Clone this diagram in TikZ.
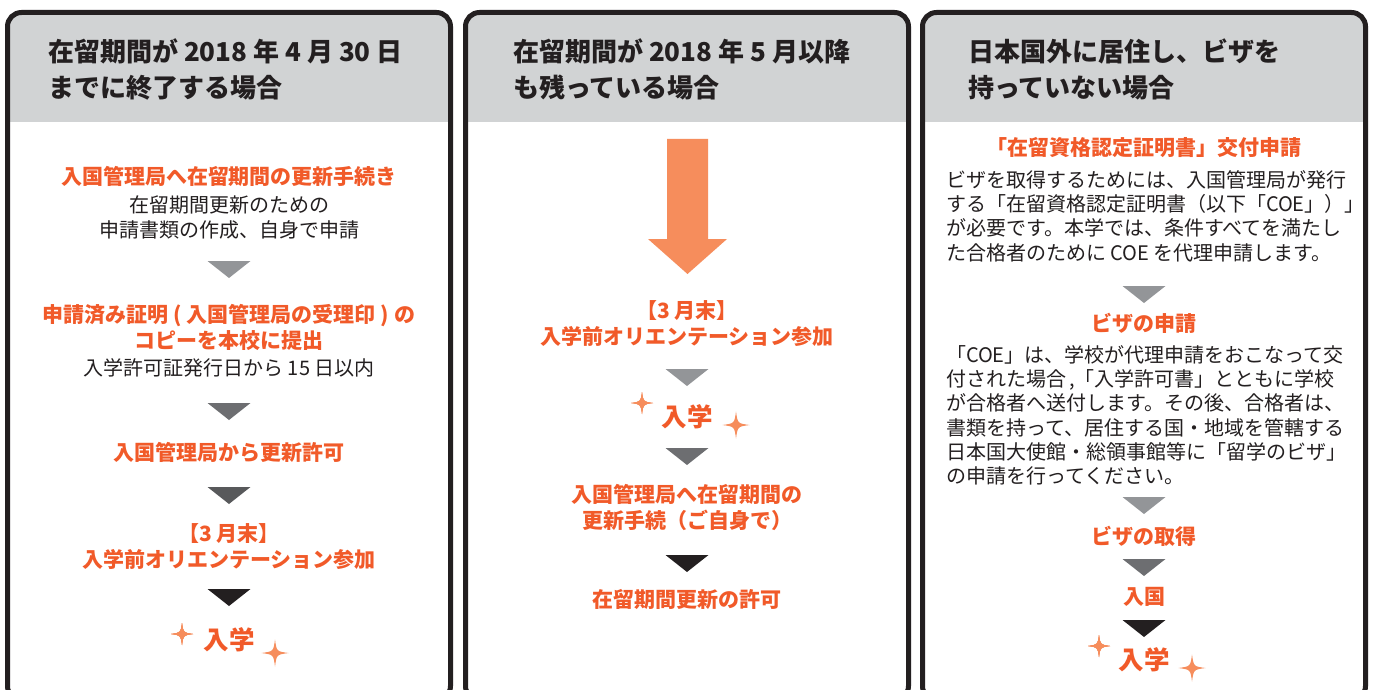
\documentclass[tikz,border=0pt]{standalone}
\usepackage{fontspec}
\usepackage{xcolor}
\setmainfont{Noto Sans CJK JP}
\usetikzlibrary{positioning}

\definecolor{hdgray}{HTML}{D1D3D4}
\definecolor{txtdark}{HTML}{231F20}
\definecolor{stepor}{HTML}{F15A29}
\definecolor{arrowor}{HTML}{F68D5C}
\definecolor{triA}{HTML}{939598}
\definecolor{triB}{HTML}{6D6E71}
\definecolor{triC}{HTML}{58595B}
\definecolor{triD}{HTML}{231F20}

% glue between CJK characters, so a line can be spread to full width
\XeTeXinterchartokenstate=1
\XeTeXinterchartoks 1 1 = {\hskip 0pt plus 3pt minus 1.5pt\relax}
\XeTeXinterchartoks 1 2 = {\hskip 0pt plus 3pt minus 1.5pt\relax}
\XeTeXinterchartoks 1 3 = {\hskip 0pt plus 3pt minus 1.5pt\relax}
\XeTeXinterchartoks 2 1 = {\hskip 0pt plus 3pt minus 1.5pt\relax}
\XeTeXinterchartoks 3 1 = {\hskip 0pt plus 3pt minus 1.5pt\relax}
\XeTeXinterchartoks 3 2 = {\hskip 0pt plus 3pt minus 1.5pt\relax}

\newcommand{\hdfont}{\fontsize{26}{36}\selectfont\bfseries}
\newcommand{\stepfont}{\fontsize{21}{26}\selectfont\bfseries}
\newcommand{\notefont}{\fontsize{20}{25}\selectfont}
\newcommand{\parafont}{\fontsize{20}{24.3}\selectfont}
\newcommand{\entfont}{\fontsize{25.5}{30}\selectfont\bfseries}
\newcommand{\jline}[1]{\makebox[402pt][s]{#1}}
\newcommand{\downtri}[3]{\fill[#3] (#1-21.5,#2) -- (#1+21.5,#2) -- (#1,#2+17) -- cycle;}

\tikzset{
  hdtext/.style={anchor=west, align=left, inner sep=0pt, text=txtdark, font=\hdfont},
  steptext/.style={align=center, inner sep=0pt, text=stepor, font=\stepfont},
  notetext/.style={align=center, inner sep=0pt, text=txtdark, font=\notefont},
  paratext/.style={align=left, inner sep=0pt, text=txtdark, font=\parafont},
  enttext/.style={inner sep=0pt, text=stepor, font=\entfont},
  sparkle/.pic={
    \fill[arrowor] (0,-1) .. controls (0.12,-0.12) .. (1,0) .. controls (0.12,0.12) .. (0,1)
      .. controls (-0.12,0.12) .. (-1,0) .. controls (-0.12,-0.12) .. (0,-1) -- cycle;}
}

\begin{document}
\begin{tikzpicture}[x=1pt, y=-1pt]
  \useasboundingbox (0,0) rectangle (1374,690);
  \fill[white] (0,0) rectangle (1374,690);
  \clip (0,0) rectangle (1374,690);

  % parameters
  \def\pw{443}    % panel width
  \def\pt{12.5}   % panel top
  \def\pb{700}    % panel bottom, below the page
  \def\hb{122}    % bottom of the grey header
  \def\rc{14pt}   % corner radius

  % panels with grey headers
  \foreach \pl in {7.5,465.5,922.5}{
    \begin{scope}
      \clip[rounded corners=\rc] (\pl,\pt) rectangle (\pl+\pw,\pb);
      \fill[hdgray] (\pl,\pt) rectangle (\pl+\pw,\hb);
    \end{scope}
    \draw[line width=5pt, txtdark, rounded corners=\rc] (\pl,\pt) rectangle (\pl+\pw,\pb);
  }

  % headers
  \node[hdtext] (h1) at (48,69.5) {在留期間が 2018 年 4 月 30 日\\までに終了する場合};
  \node[hdtext] (h2) at (513,69.5) {在留期間が 2018 年 5 月以降\\も残っている場合};
  \node[hdtext] (h3) at (968,69.5) {日本国外に居住し、ビザを\\持っていない場合};

  % 1st panel
  \node[steptext] (a1) at (229,176) {入国管理局へ在留期間の更新手続き};
  \node[notetext] (a1n) at (229,217.5) {在留期間更新のための\\申請書類の作成、自身で申請};
  \node[steptext] (a2) at (229,327.5) {申請済み証明 ( 入国管理局の受理印 ) の\\コピーを本校に提出};
  \node[notetext] (a2n) at (229,368) {入学許可証発行日から 15 日以内};
  \node[steptext] (a3) at (229,452) {入国管理局から更新許可};
  \node[steptext] (a4) at (229,547) {【3 月末】\\入学前オリエンテーション参加};
  \node[enttext] (a5) at (229,640) {入学};
  \foreach \ty/\tc in {261/triA, 403/triB, 487/triC, 589/triD}
    \downtri{229}{\ty}{\tc}
  \pic[scale=11] at (182,634) {sparkle};
  \pic[scale=13.5] at (275,653) {sparkle};

  % 2nd panel
  \fill[arrowor] (667,139) -- (708,139) -- (708,239) -- (727,239) -- (687.5,274)
    -- (648,239) -- (667,239) -- cycle;
  \node[steptext] (b1) at (687,323.5) {【3 月末】\\入学前オリエンテーション参加};
  \node[enttext] (b2) at (687,417) {入学};
  \node[steptext] (b3) at (687,507) {入国管理局へ在留期間の\\更新手続（ご自身で）};
  \node[steptext] (b4) at (687,599) {在留期間更新の許可};
  \foreach \ty/\tc in {369/triA, 448/triB, 555/triD}
    \downtri{687}{\ty}{\tc}
  \pic[scale=11] at (642,403) {sparkle};
  \pic[scale=13.5] at (736,425) {sparkle};

  % 3rd panel
  \node[steptext] (c1) at (1144,148) {「在留資格認定証明書」交付申請};
  \node[paratext] (c1n) at (1147,216) {\jline{ビザを取得するためには、入国管理局が発行}\\
    \jline{する「在留資格認定証明書（以下「COE」）」}\\
    \jline{が必要です。本学では、条件すべてを満たし}\\
    た合格者のために COE を代理申請します。};
  \node[steptext] (c2) at (1144,323) {ビザの申請};
  \node[paratext] (c2n) at (1147,415.5) {\jline{「COE」は、学校が代理申請をおこなって交}\\
    \jline{付された場合\kern3pt,「入学許可書」とともに学校}\\
    \jline{が合格者へ送付します。その後、合格者は、}\\
    \jline{書類を持って、居住する国・地域を管轄する}\\
    \jline{日本国大使館・総領事館等に「留学のビザ」}\\
    の申請を行ってください。};
  \node[steptext] (c3) at (1144,536) {ビザの取得};
  \node[steptext] (c4) at (1144,597) {入国};
  \node[enttext] (c5) at (1144,660) {入学};
  \foreach \ty/\tc in {286/triA, 497/triA, 559/triB, 620/triD}
    \downtri{1144}{\ty}{\tc}
  \pic[scale=11] at (1099,646) {sparkle};
  \pic[scale=13.5] at (1192,668) {sparkle};
\end{tikzpicture}
\end{document}
